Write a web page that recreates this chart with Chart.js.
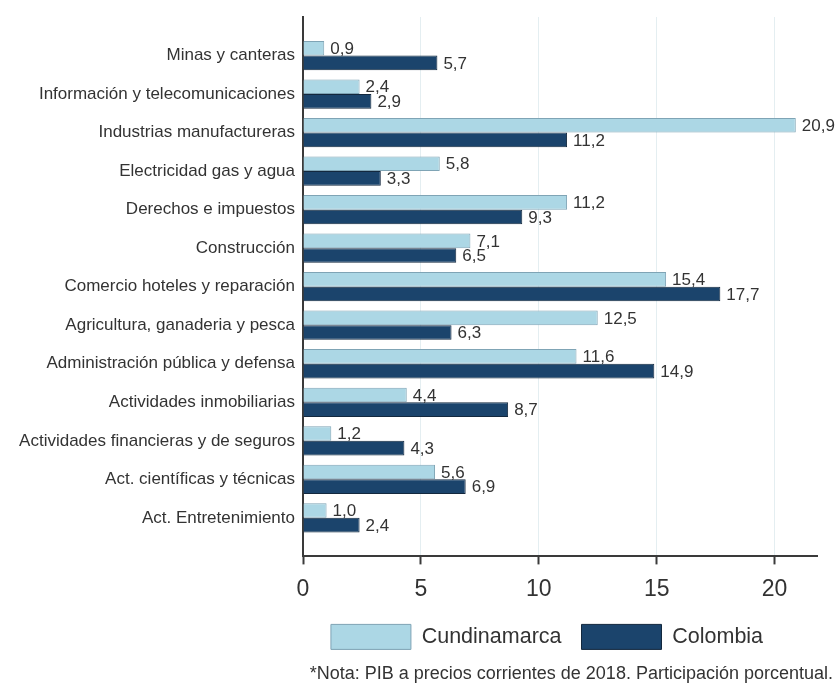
<!DOCTYPE html>
<html lang="es">
<head>
<meta charset="utf-8">
<title>Participación en el PIB por rama de actividad</title>
<script src="https://cdn.jsdelivr.net/npm/chart.js@4.4.1/dist/chart.umd.min.js"></script>
<style>
  html, body { margin: 0; padding: 0; background: #fff; }
  canvas { display: block; }
</style>
</head>
<body>
<canvas id="pibChart" width="838" height="690"></canvas>
<script>
// Ramas de actividad, de arriba hacia abajo
const ramas = [
  'Minas y canteras',
  'Información y telecomunicaciones',
  'Industrias manufactureras',
  'Electricidad gas y agua',
  'Derechos e impuestos',
  'Construcción',
  'Comercio hoteles y reparación',
  'Agricultura, ganaderia y pesca',
  'Administración pública y defensa',
  'Actividades inmobiliarias',
  'Actividades financieras y de seguros',
  'Act. científicas y técnicas',
  'Act. Entretenimiento'
];
const cundinamarca = [0.9, 2.4, 20.9, 5.8, 11.2, 7.1, 15.4, 12.5, 11.6, 4.4, 1.2, 5.6, 1.0];
const colombia = [5.7, 2.9, 11.2, 3.3, 9.3, 6.5, 17.7, 6.3, 14.9, 8.7, 4.3, 6.9, 2.4];
const ejeTicks = [0, 5, 10, 15, 20];
const nota = '*Nota: PIB a precios corrientes de 2018. Participación porcentual.';

const FONT = '"Liberation Sans", Arial, sans-serif';
const TEXT = '#333333';
const AXIS = '#3a3a3a';

// empty rows at both ends leave the half-band gap above and below the bars
const pad = arr => [null].concat(arr, [null]);

// value labels at the end of every bar, decimal comma
const valueLabels = {
  id: 'valueLabels',
  afterDatasetsDraw(chart) {
    const ctx = chart.ctx;
    ctx.save();
    ctx.font = '17px ' + FONT;
    ctx.fillStyle = TEXT;
    ctx.textBaseline = 'middle';
    ctx.textAlign = 'left';
    chart.data.datasets.forEach((ds, i) => {
      chart.getDatasetMeta(i).data.forEach((bar, j) => {
        const v = ds.data[j];
        if (v == null) return;
        ctx.fillText(v.toFixed(1).replace('.', ','), bar.x + 6, bar.y + 1);
      });
    });
    ctx.restore();
  }
};

// keep the legend centred under the plot instead of the whole canvas
const legendUnderPlot = {
  id: 'legendUnderPlot',
  afterLayout(chart) {
    const lg = chart.legend;
    lg.left = chart.chartArea.left - 26;
    lg.right = chart.chartArea.right;
  }
};

new Chart(document.getElementById('pibChart'), {
  type: 'bar',
  data: {
    labels: [''].concat(ramas, ['']),
    datasets: [{
      label: 'Cundinamarca',
      data: pad(cundinamarca),
      backgroundColor: '#acd7e5',
      borderColor: '#7fa4b5',
      borderWidth: 1
    }, {
      label: 'Colombia',
      data: pad(colombia),
      backgroundColor: '#1b446c',
      borderColor: '#13283e',
      borderWidth: 1
    }]
  },
  options: {
    indexAxis: 'y',
    responsive: false,
    animation: false,
    categoryPercentage: 0.76,
    barPercentage: 1,
    layout: { padding: { top: 17, right: 5, left: 0, bottom: 0 } },
    plugins: {
      legend: {
        position: 'bottom',
        labels: {
          boxWidth: 80,
          boxHeight: 25,
          padding: 20,
          color: TEXT,
          font: { family: FONT, size: 21.5 }
        }
      },
      subtitle: {
        display: true,
        text: nota,
        position: 'bottom',
        align: 'end',
        color: TEXT,
        font: { family: FONT, size: 18, weight: 'normal' },
        padding: { top: 4, bottom: 5 }
      },
      tooltip: { enabled: false }
    },
    scales: {
      x: {
        min: 0,
        max: 21.8,
        afterBuildTicks: scale => { scale.ticks = ejeTicks.map(v => ({ value: v })); },
        afterFit: scale => {
          scale.height = 48;
          scale.paddingRight = 21;
        },
        grid: {
          color: '#e4eef1',
          lineWidth: 1,
          tickColor: AXIS,
          tickWidth: 2,
          tickLength: 8
        },
        border: { color: AXIS, width: 2 },
        ticks: {
          color: TEXT,
          padding: 11,
          font: { family: FONT, size: 23 }
        }
      },
      y: {
        offset: false,
        afterFit: scale => { scale.width = 303; },
        grid: { display: false },
        border: { color: AXIS, width: 2 },
        ticks: {
          color: TEXT,
          padding: 0,
          autoSkip: false,
          font: { family: FONT, size: 17 }
        }
      }
    }
  },
  plugins: [valueLabels, legendUnderPlot]
});
</script>
</body>
</html>
